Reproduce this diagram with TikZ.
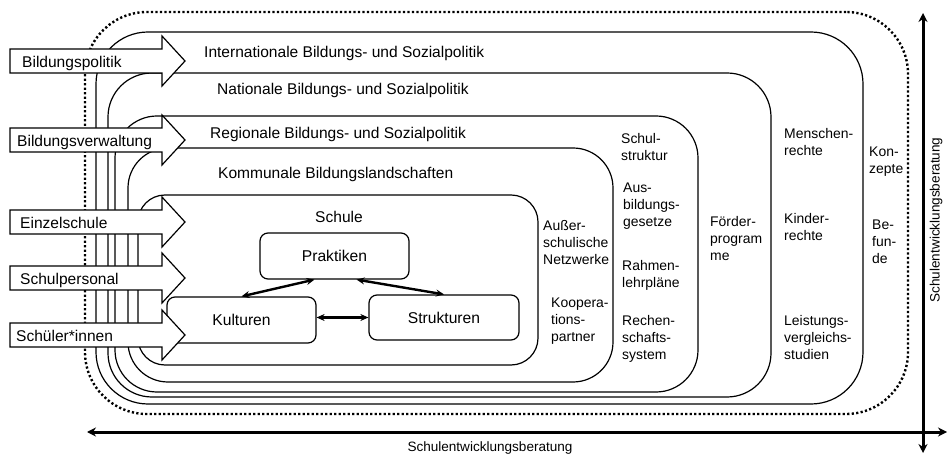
\documentclass[tikz,border=0pt]{standalone}
\usepackage{fontspec}
\setmainfont{Liberation Sans}
\usetikzlibrary{arrows.meta,calc}
\begin{document}
\begin{tikzpicture}[x=1bp,y=-1bp,
  frame/.style={draw, line width=1.2bp, inner sep=0pt, outer sep=0pt},
  dotframe/.style={draw, line width=2.4bp, dash pattern=on 2.2bp off 2.3bp, inner sep=0pt, outer sep=0pt},
  innerbox/.style={draw, line width=1.2bp, rounded corners=8bp, minimum width=149bp, minimum height=46bp, inner sep=0pt, font=\fontsize{15.7}{19}\selectfont},
  barrow/.style={draw, fill=white, line width=1.2bp, line join=miter},
  big/.style={font=\fontsize{15.6}{19}\selectfont, inner sep=0pt},
  side/.style={font=\fontsize{14}{17}\selectfont, align=left, inner sep=0pt, anchor=north west},
  axislab/.style={font=\fontsize{13.6}{17}\selectfont, inner sep=0pt},
  axis/.style={line width=3bp, {Stealth[length=9bp,width=9bp]}-{Stealth[length=9bp,width=9bp]}},
  link/.style={line width=2.4bp, {Stealth[length=8bp,width=7bp]}-{Stealth[length=8bp,width=7bp]}}
]
\useasboundingbox (0,0) rectangle (950,455);

% nested frames
\node[dotframe, rounded corners=62bp, minimum width=823bp, minimum height=402bp] (dot) at (496.5,213) {};
\node[frame, rounded corners=52bp, minimum width=767bp, minimum height=372bp] (int) at (479.5,218) {};
\node[frame, rounded corners=44bp, minimum width=663bp, minimum height=324bp] (nat) at (439.5,235) {};
\node[frame, rounded corners=42bp, minimum width=583bp, minimum height=276bp] (reg) at (406.5,254) {};
\node[frame, rounded corners=40bp, minimum width=485bp, minimum height=234bp] (kom) at (370.5,265) {};
\node[frame, rounded corners=27bp, minimum width=400bp, minimum height=170bp] (sch) at (338,280) {};

% frame titles
\node[big, anchor=base west] (tint) at (204,58) {Internationale Bildungs- und Sozialpolitik};
\node[big, anchor=base west] (tnat) at (217,95) {Nationale Bildungs- und Sozialpolitik};
\node[big, anchor=base west] (treg) at (210,139) {Regionale Bildungs- und Sozialpolitik};
\node[big, anchor=base west] (tkom) at (218,179) {Kommunale Bildungslandschaften};
\node[big, anchor=base] (tsch) at (339,223) {Schule};

% inner boxes
\node[innerbox] (pra) at (334.5,256) {Praktiken};
\node[innerbox] (kul) at (241.5,320) {Kulturen};
\node[innerbox, minimum width=150bp, minimum height=45bp] (str) at (444,317.5) {Strukturen};
\draw[link] (kul.north) -- ([xshift=-20bp]pra.south);
\draw[link] ([xshift=22bp]pra.south) -- (str.north);
\draw[link] (kul.east |- str.west) -- (str.west);

% side labels
\node[side] (l1) at (543,220) {Außer-\\schulische\\Netzwerke};
\node[side] (l2) at (551,298) {Koopera-\\tions-\\partner};
\node[side] (l3) at (621,133) {Schul-\\struktur};
\node[side] (l4) at (623,183) {Aus-\\bildungs-\\gesetze};
\node[side] (l5) at (622,260) {Rahmen-\\lehrpläne};
\node[side] (l6) at (622,315) {Rechen-\\schafts-\\system};
\node[side] (l7) at (710,216) {Förder-\\program\\me};
\node[side] (l8) at (784,128) {Menschen-\\rechte};
\node[side] (l9) at (784,213) {Kinder-\\rechte};
\node[side] (l10) at (784,315) {Leistungs-\\vergleichs-\\studien};
\node[side] (l11) at (869,147) {Kon-\\zepte};
\node[side] (l12) at (872,220) {Be-\\fun-\\de};

% block arrows
\foreach \c/\tx/\nm/\lbl in {61/22/abp/Bildungspolitik, 140/17/abv/Bildungsverwaltung, 222/20/aes/Einzelschule, 278/20/asp/Schulpersonal, 335/16/asi/Schüler*innen}{
  \draw[barrow] (10,\c-12) -- (162,\c-12) -- (162,\c-25) -- (185,\c) -- (162,\c+25) -- (162,\c+12) -- (10,\c+12) -- cycle;
  \node[big, anchor=base west] (\nm) at (\tx,\c+7) {\lbl};
}

% axes
\coordinate (hl) at (87,432);
\coordinate (hr) at (947,432);
\coordinate (vt) at (923,13);
\coordinate (vb) at (923,453);
\draw[axis] (hl) -- (hr);
\draw[axis] (vt) -- (vb);
\node[axislab] (hlab) at (490,448) {Schulentwicklungsberatung};
\node[axislab, rotate=90] (vlab) at (936,220) {Schulentwicklungsberatung};
\end{tikzpicture}
\end{document}
